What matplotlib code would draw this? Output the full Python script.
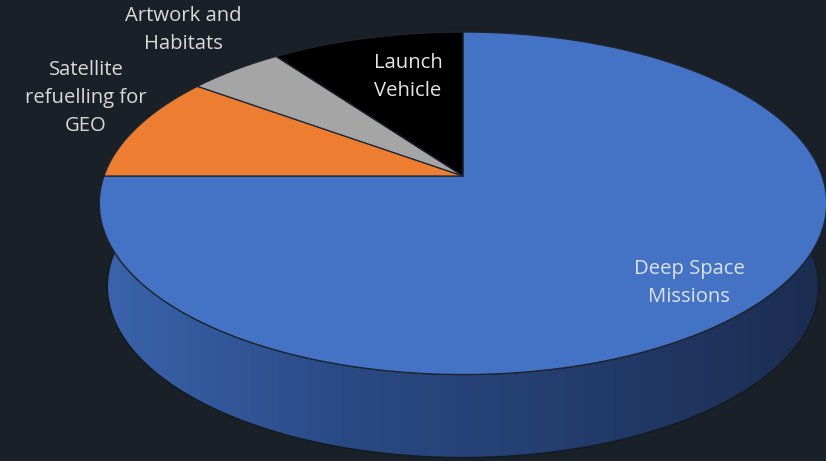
import numpy as np
import matplotlib
matplotlib.use('Agg')
import matplotlib.pyplot as plt
from matplotlib.colors import LinearSegmentedColormap
from matplotlib.patches import Polygon

# ── Data ────────────────────────────────────────────────────────────────────
labels = ['Deep Space\nMissions', 'Satellite\nrefuelling for\nGEO', 'Artwork and\nHabitats', 'Launch\nVehicle']
shares = [75, 10, 5, 10]
colors = ['#4472C4', '#ED7D31', '#A5A5A5', '#000000']
label_pos = [(689, 283), (86, 98), (183, 30), (408, 77)]
label_colors = ['#dce4f2', '#d9d9d9', '#d9d9d9', '#e6e6e6']

BG = '#1a2028'

# ── 3-D perspective pie geometry ───────────────────────────────────────────
CX, CY = 463, 176
ELEV = np.radians(27.7)
R = 0.18
F = 359 / R
THICK = 83          # wall height in pixels
ce, se = np.cos(ELEV), np.sin(ELEV)


def project(theta):
    X = R * np.cos(theta)
    Z = -R * np.sin(theta)
    depth = 1 - Z * ce
    sx = CX + F * X / depth
    sy = CY + F * Z * se / depth
    return sx, sy


def arc(t0, t1, n=200, bottom=False):
    sx, sy = project(np.linspace(t0, t1, n))
    if bottom:
        sx = CX + (sx - CX) * 0.978
        sy = sy + THICK
    return np.column_stack([sx, sy])


# slice angles: clockwise from 12 o'clock
fracs = np.array(shares) / sum(shares)
bounds = np.pi / 2 - 2 * np.pi * np.concatenate([[0], np.cumsum(fracs)])

fig = plt.figure(figsize=(8.26, 4.61), dpi=100, facecolor=BG)
ax = fig.add_axes([0, 0, 1, 1])
ax.set_facecolor(BG)
ax.set_xlim(0, 826)
ax.set_ylim(461, 0)
ax.axis('off')

# side wall (only the front half of Deep Space shows) with a left→right gradient
t_lo, t_hi = np.pi * 0.97, np.pi * 2.03
wall = np.vstack([arc(t_lo, t_hi), arc(t_hi, t_lo, bottom=True)])
wall_patch = Polygon(wall, closed=True, facecolor='none', edgecolor='#141a22', lw=1.0, zorder=2)
ax.add_patch(wall_patch)
side_cmap = LinearSegmentedColormap.from_list(
    'side', ['#3b64ad', '#2a4a85', '#233c6c', '#1b2c50'])
grad = np.linspace(0, 1, 256).reshape(1, -1)
img = ax.imshow(grad, cmap=side_cmap, extent=[100, 826, 470, 150], aspect='auto', zorder=1)
img.set_clip_path(wall_patch)

# top faces
for i, col in enumerate(colors):
    pts = np.vstack([[CX, CY], arc(bounds[i], bounds[i + 1])])
    ax.add_patch(Polygon(pts, closed=True, facecolor=col, edgecolor='#1f2530',
                         lw=0.9, joinstyle='round', zorder=3))

for text, (x, y), c in zip(labels, label_pos, label_colors):
    ax.text(x, y, text, ha='center', va='center', color=c, fontsize=14.6,
            family='Open Sans', linespacing=1.52, zorder=5)

fig.savefig('out.png', dpi=100, facecolor=BG)
